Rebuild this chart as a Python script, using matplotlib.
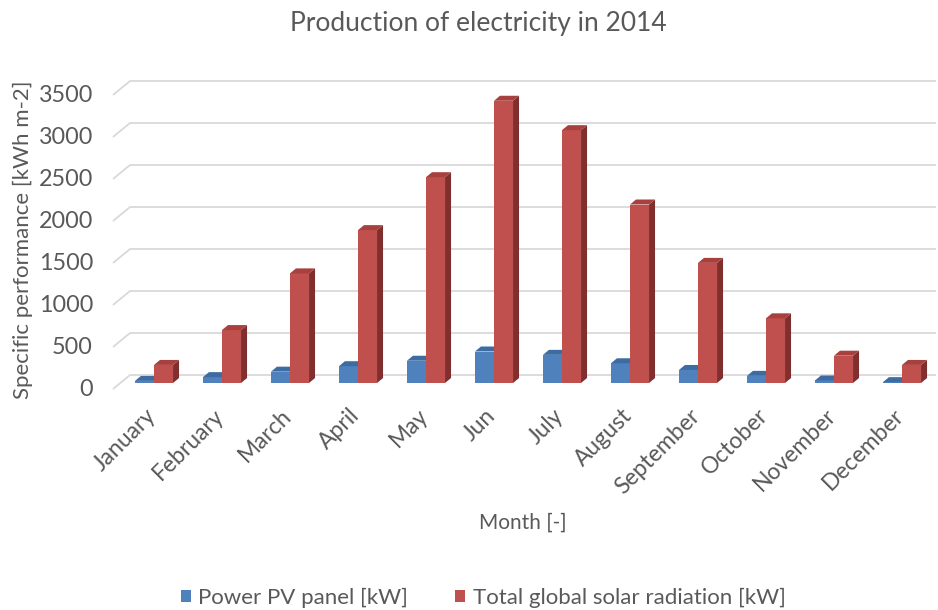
import matplotlib.pyplot as plt
from matplotlib.patches import Polygon

months = ['January', 'February', 'March', 'April', 'May', 'Jun', 'July',
          'August', 'September', 'October', 'November', 'December']
pv_power = [25, 70, 135, 200, 265, 375, 335, 235, 155, 85, 30, 10]
solar_radiation = [215, 630, 1305, 1820, 2450, 3360, 3010, 2125, 1430, 770, 325, 215]
y_ticks = [0, 500, 1000, 1500, 2000, 2500, 3000, 3500]
series_names = ['Power PV panel [kW]', 'Total global solar radiation [kW]']

plt.rcParams['font.family'] = ['Lato', 'DejaVu Sans']
text_color = '#595959'

# pixel -> data scales (1 category = 68 px, 1 px = 11.9 units on the value axis)
px_x = 1 / 68.0
px_y = 3500 / 294.0

fig = plt.figure(figsize=(9.38, 6.10), dpi=100)
ax = fig.add_axes([0, 0, 1, 1])
ax.set_xlim(-154 * px_x, 784 * px_x)
ax.set_ylim(-(610 - 383) * px_y, 383 * px_y)
ax.axis('off')

# back wall gridlines with the floor diagonal on the left
wall_dy = 8 * px_y
front_dy = -6 * px_y
for v in y_ticks:
    xs = [-41 * px_x, -24 * px_x, 782 * px_x]
    ys = [v + front_dy, v + wall_dy, v + wall_dy]
    ax.plot(xs, ys, color='#d9d9d9', lw=1.3, zorder=1, solid_capstyle='butt')
    ax.text(-61 * px_x, v + front_dy - 1 * px_y, str(v), ha='right', va='center',
            fontsize=16.8, color=text_color)

# pseudo 3D columns: front face, top face and side face
bar_w = 0.28
depth_x = 6 * px_x
depth_y = 5 * px_y
styles = [('#4f81bd', '#3d6ca3', '#36608f'), ('#c0504d', '#a8403d', '#7f2f2d')]
for k, (values, (front, top, side)) in enumerate(zip([pv_power, solar_radiation], styles)):
    lefts = [i - bar_w + k * bar_w for i in range(len(months))]
    ax.bar(lefts, values, width=bar_w, align='edge', color=front, zorder=3,
           label=series_names[k])
    for x0, v in zip(lefts, values):
        ax.add_patch(Polygon([(x0, v), (x0 + depth_x, v + depth_y),
                              (x0 + bar_w + depth_x, v + depth_y), (x0 + bar_w, v)],
                             closed=True, facecolor=top, edgecolor='none', zorder=3))
        ax.add_patch(Polygon([(x0 + bar_w, 0), (x0 + bar_w + depth_x, depth_y),
                              (x0 + bar_w + depth_x, v + depth_y), (x0 + bar_w, v)],
                             closed=True, facecolor=side, edgecolor='none', zorder=2))

# category labels
for i, m in enumerate(months):
    ax.text(i - 9 * px_x, -22 * px_y, m, rotation=45, ha='right', va='top',
            rotation_mode='anchor', fontsize=16.5, color=text_color)

fig.text(478 / 938, 1 - 23 / 610, 'Production of electricity in 2014', ha='center',
         va='center', fontsize=19, color=text_color)
fig.text(23 / 938, 1 - 240 / 610, 'Specific performance [kWh m-2]', ha='center',
         va='center', rotation=90, fontsize=16, color=text_color)
fig.text(523 / 938, 1 - 523 / 610, 'Month [-]', ha='center', va='center',
         fontsize=15, color=text_color)

leg = fig.legend(loc='center', bbox_to_anchor=(483 / 938, 1 - 598 / 610), ncol=2,
                 frameon=False, fontsize=16, handlelength=0.45, handleheight=0.45,
                 columnspacing=2.1, handletextpad=0.35)
for t in leg.get_texts():
    t.set_color(text_color)

fig.savefig('out.png', dpi=100)
